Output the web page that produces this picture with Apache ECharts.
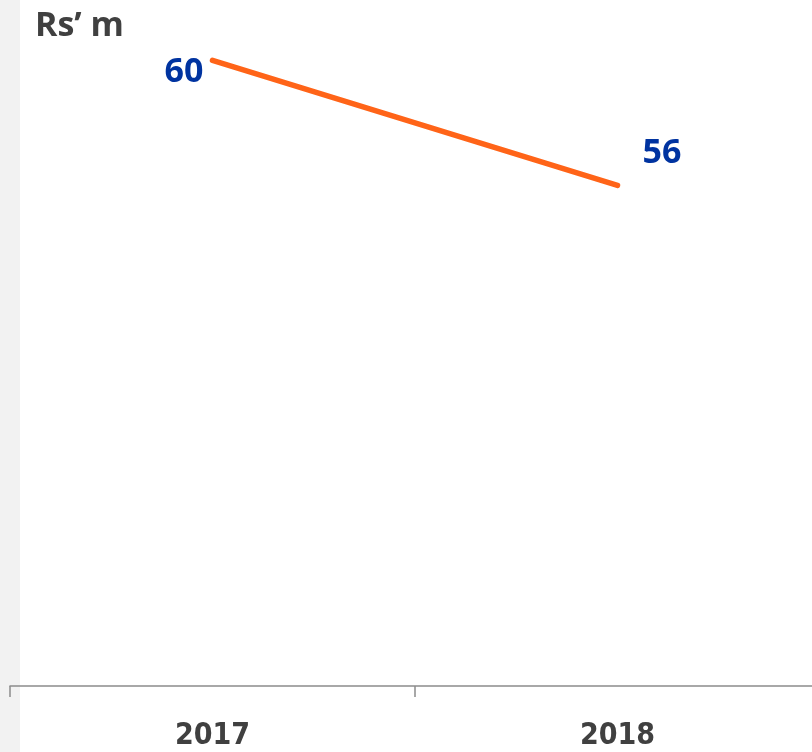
<!DOCTYPE html>
<html>
<head>
<meta charset="utf-8">
<script src="https://cdn.jsdelivr.net/npm/echarts@6/dist/echarts.min.js"></script>
<style>
  html, body { margin: 0; padding: 0; background: #fff; }
  #chart { width: 812px; height: 752px; }
</style>
</head>
<body>
<div id="chart"></div>
<script>
const years = ['2017', '2018']
const values = [60, 56]
// label placement per point
const labelPos = ['left', 'right']
const labelOffset = [[-4, 12], [20, -32]]

let myChart = echarts.init(document.getElementById('chart'))

myChart.setOption({
  animation: false,
  backgroundColor: '#ffffff',
  graphic: [{
    type: 'rect',
    shape: { x: 0, y: 0, width: 20, height: 752 },
    style: { fill: '#f2f2f2' },
    z: -10
  }],
  title: {
    text: 'Rs\u2019 m',
    left: 30,
    top: 4,
    textStyle: {
      fontFamily: 'Open Sans, sans-serif',
      fontWeight: 'bold',
      fontSize: 34,
      color: '#404040'
    }
  },
  grid: {
    left: 10,
    top: 29,
    right: -8,
    bottom: 66,
    outerBoundsMode: 'none'
  },
  xAxis: {
    type: 'category',
    data: years,
    boundaryGap: true,
    axisLine: { lineStyle: { color: '#8c8c8c', width: 1.5 } },
    axisTick: { show: true, length: 11, lineStyle: { color: '#8c8c8c', width: 1.5 } },
    axisLabel: {
      margin: 35,
      fontFamily: 'Liberation Sans Narrow, DejaVu Sans Condensed, sans-serif',
      fontWeight: 'bold',
      fontSize: 30,
      color: '#404040'
    }
  },
  yAxis: {
    type: 'value',
    min: 40,
    max: 61,
    show: false,
    splitLine: { show: false }
  },
  series: [{
    type: 'line',
    symbol: 'circle',
    symbolSize: 0,
    showSymbol: true,
    itemStyle: { color: 'transparent', borderWidth: 0 },
    lineStyle: { color: '#ff6418', width: 5.5, cap: 'round' },
    label: {
      show: true,
      fontFamily: 'Open Sans, sans-serif',
      fontWeight: 'bold',
      fontSize: 34,
      color: '#0033a0'
    },
    data: values.map((v, i) => ({
      value: v,
      label: { position: labelPos[i], offset: labelOffset[i] }
    }))
  }]
})
</script>
</body>
</html>
